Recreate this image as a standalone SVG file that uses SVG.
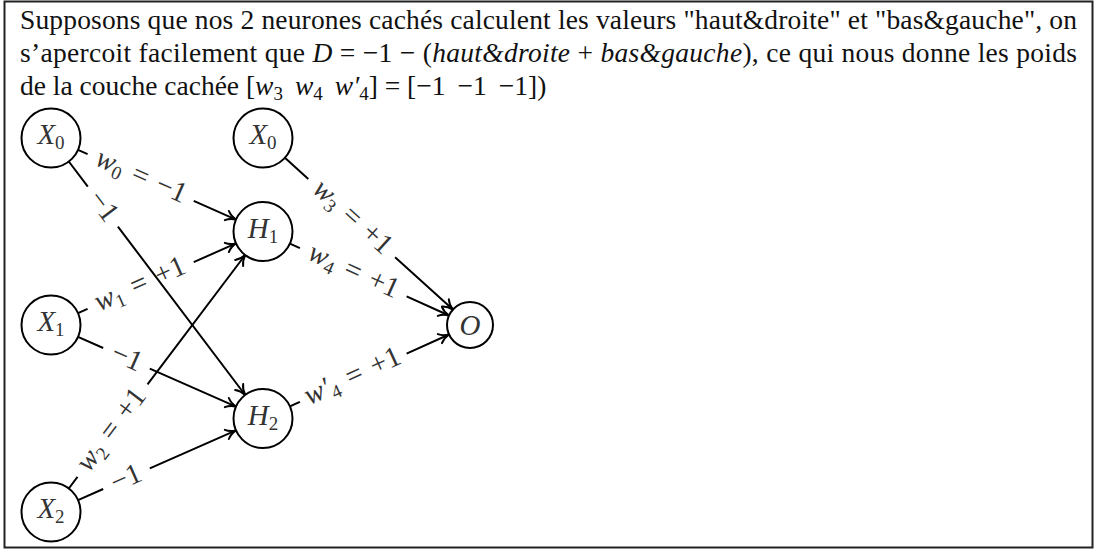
<svg xmlns="http://www.w3.org/2000/svg" width="1097" height="552" viewBox="0 0 1097 552">
<defs>
<marker id="arr" markerUnits="userSpaceOnUse" markerWidth="20" markerHeight="20" refX="0" refY="0" orient="auto" overflow="visible">
<path d="M-10,-5 C-7,-2 -3,-0.6 0,0 C-3,0.6 -7,2 -10,5" fill="none" stroke="#000" stroke-width="2" stroke-linecap="round"/>
</marker>
<style>
.frame{fill:#fff;stroke:#222;stroke-width:2}
.txt{font-family:"Liberation Serif","Times New Roman",serif;font-size:27.5px;fill:#111}
.it{font-style:italic}
.node circle{fill:#fff;stroke:#000;stroke-width:2}
.nl{font-family:"Liberation Serif","Times New Roman",serif;font-size:29px;fill:#333;text-anchor:middle}
.sub{font-size:19px;font-style:normal}
.edge{stroke:#000;stroke-width:2;fill:none;marker-end:url(#arr)}
.el{font-family:"Liberation Serif","Times New Roman",serif;font-size:29px;fill:#333;text-anchor:middle;word-spacing:3px}
</style>
</defs>
<rect width="1097" height="552" fill="#fff"/>
<rect class="frame" x="4.5" y="1.5" width="1088" height="546"/>
<g id="caption" class="txt">
<text x="20" y="29" textLength="1057" lengthAdjust="spacing">Supposons que nos 2 neurones cachés calculent les valeurs "haut&amp;droite" et "bas&amp;gauche", on</text>
<text x="20" y="62" textLength="1057" lengthAdjust="spacing">s’apercoit facilement que <tspan class="it">D</tspan> = −1 − (<tspan class="it">haut&amp;droite</tspan> + <tspan class="it">bas&amp;gauche</tspan>), ce qui nous donne les poids</text>
<text x="20" y="95">de la couche cachée [<tspan class="it">w</tspan><tspan class="sub" dy="5">3</tspan><tspan class="it" dx="12" dy="-5">w</tspan><tspan class="sub" dy="5">4</tspan><tspan class="it" dx="12" dy="-5">w′</tspan><tspan class="sub" dy="5">4</tspan><tspan dy="-5">] = [−1</tspan><tspan dx="12">−1</tspan><tspan dx="12">−1])</tspan></text>
</g>
<g id="connectors">
<path class="edge" d="M78.0,149.9 L87.6,154.1 M193.7,200.9 L236.0,219.6"/>
<path class="edge" d="M78.0,313.1 L87.6,308.9 M193.7,262.1 L236.0,243.4"/>
<path class="edge" d="M68.8,161.5 L87.8,186.7 M117.9,226.6 L245.2,395.0"/>
<path class="edge" d="M78.0,336.9 L103.2,348.0 M149.8,368.6 L236.0,406.6"/>
<path class="edge" d="M68.8,488.5 L77.5,476.9 M147.5,384.4 L245.2,255.0"/>
<path class="edge" d="M78.0,500.1 L103.2,489.0 M149.8,468.4 L236.0,430.4"/>
<path class="edge" d="M284.9,157.8 L308.3,178.9 M395.1,257.3 L452.9,309.6"/>
<path class="edge" d="M289.9,243.6 L299.9,248.2 M406.6,296.3 L449.0,315.5"/>
<path class="edge" d="M289.9,406.4 L299.9,401.8 M406.6,353.7 L449.0,334.5"/>
<g class="el">
<text transform="translate(140.7,177.5) rotate(23.8)" y="7"><tspan class="it">w</tspan><tspan class="sub" dy="5">0</tspan><tspan dy="-5"> = −1</tspan></text>
<text transform="translate(102.9,206.6) rotate(52.92)" y="8">−1</text>
<text transform="translate(140.7,285.5) rotate(-23.8)" y="7"><tspan class="it">w</tspan><tspan class="sub" dy="5">1</tspan><tspan dy="-5"> = +1</tspan></text>
<text transform="translate(126.5,358.3) rotate(23.8)" y="8">−1</text>
<text transform="translate(112.5,430.6) rotate(-52.92)" y="7"><tspan class="it">w</tspan><tspan class="sub" dy="5">2</tspan><tspan dy="-5"> = +1</tspan></text>
<text transform="translate(126.5,478.7) rotate(-23.8)" y="8">−1</text>
<text transform="translate(351.7,218.1) rotate(42.1)" y="7"><tspan class="it">w</tspan><tspan class="sub" dy="5">3</tspan><tspan dy="-5"> = +1</tspan></text>
<text transform="translate(353.2,272.3) rotate(24.31)" y="7"><tspan class="it">w</tspan><tspan class="sub" dy="5">4</tspan><tspan dy="-5"> = +1</tspan></text>
<text transform="translate(353.2,377.7) rotate(-24.31)" y="7"><tspan class="it">w′</tspan><tspan class="sub" dy="5">4</tspan><tspan dy="-5"> = +1</tspan></text>
</g>
</g>
<g id="X0" class="node"><circle cx="51" cy="138" r="29.5"/><text class="nl" x="51" y="143.5"><tspan class="it">X</tspan><tspan class="sub" dy="5">0</tspan></text></g>
<g id="X0b" class="node"><circle cx="263" cy="138" r="29.5"/><text class="nl" x="263" y="143.5"><tspan class="it">X</tspan><tspan class="sub" dy="5">0</tspan></text></g>
<g id="X1" class="node"><circle cx="51" cy="325" r="29.5"/><text class="nl" x="51" y="330.5"><tspan class="it">X</tspan><tspan class="sub" dy="5">1</tspan></text></g>
<g id="X2" class="node"><circle cx="51" cy="512" r="29.5"/><text class="nl" x="51" y="517.5"><tspan class="it">X</tspan><tspan class="sub" dy="5">2</tspan></text></g>
<g id="H1" class="node"><circle cx="263" cy="231.5" r="29.5"/><text class="nl" x="263" y="237.5"><tspan class="it">H</tspan><tspan class="sub" dy="5">1</tspan></text></g>
<g id="H2" class="node"><circle cx="263" cy="418.5" r="29.5"/><text class="nl" x="263" y="424.5"><tspan class="it">H</tspan><tspan class="sub" dy="5">2</tspan></text></g>
<g id="O" class="node"><circle cx="470" cy="325" r="23"/><text class="nl it" x="470" y="334.5">O</text></g>
</svg>
